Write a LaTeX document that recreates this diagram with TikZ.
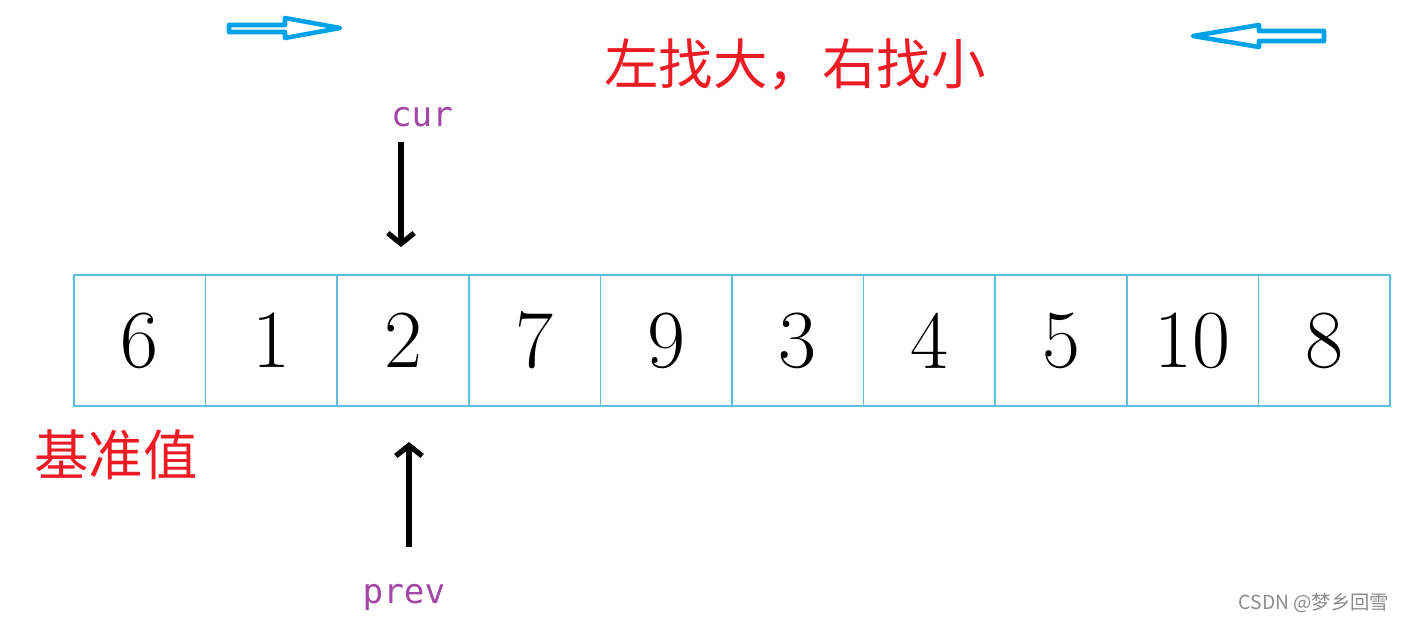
\documentclass[tikz,border=0pt]{standalone}
\usepackage{fontspec}
\newfontfamily\cjk{Noto Sans CJK SC}
\newfontfamily\monofont{DejaVu Sans Mono}
\usetikzlibrary{arrows.meta}
\definecolor{boxline}{RGB}{95,190,220}
\definecolor{hollow}{RGB}{0,162,232}
\definecolor{ptrtext}{RGB}{163,70,165}
\definecolor{note}{RGB}{237,28,36}

\begin{document}
\begin{tikzpicture}[x=0.02cm, y=-0.02cm,
    cell/.style={draw=boxline, line width=0.9pt, minimum width=2.632cm, minimum height=2.62cm,
      inner sep=0pt, outer sep=0pt, font=\fontsize{47}{49}\selectfont},
    ptr/.style={text=ptrtext, font=\monofont\fontsize{19.5}{22}\selectfont},
    move/.style={draw=hollow, line width=2.6pt, line join=round},
    pointer/.style={line width=3pt, -{Straight Barb[length=6pt, width=15pt]}}]
  \useasboundingbox[fill=white] (0,0) rectangle (1404,623);

  % the array
  \foreach \v [count=\i from 0] in {6,1,2,7,9,3,4,5,10,8}
    \node[cell] (c\i) at ({74+131.6*(\i+0.5)}, 340.5) {\v};

  % cur and prev
  \node[ptr] (cur) at (422,117) {cur};
  \node[ptr] (prev) at (404,597) {prev};
  \coordinate (curtail) at (401,142);
  \coordinate (curtip) at (401,247);
  \coordinate (prevtail) at (409,547);
  \coordinate (prevtip) at (409,442);
  \draw[pointer] (curtail) -- (curtip);
  \draw[pointer] (prevtail) -- (prevtip);

  % notes
  \node[text=note, font=\cjk\fontsize{31}{33}\selectfont] (rule) at (795,65) {左找大，右找小};
  \node[text=note, font=\cjk\fontsize{31}{33}\selectfont] (pivot) at (116,455) {基准值};

  % hollow arrows
  \draw[move] (229,25) -- (285,25) -- (285,18) -- (340,28) -- (285,38) -- (285,32) -- (229,32) -- cycle;
  \draw[move] (1193,36) -- (1259,25) -- (1259,31) -- (1324,31) -- (1324,41) -- (1259,41) -- (1259,47) -- cycle;

  \node[text=black!45, font=\cjk\fontsize{11}{13}\selectfont] (mark) at (1314,603) {CSDN @梦乡回雪};
\end{tikzpicture}
\end{document}
